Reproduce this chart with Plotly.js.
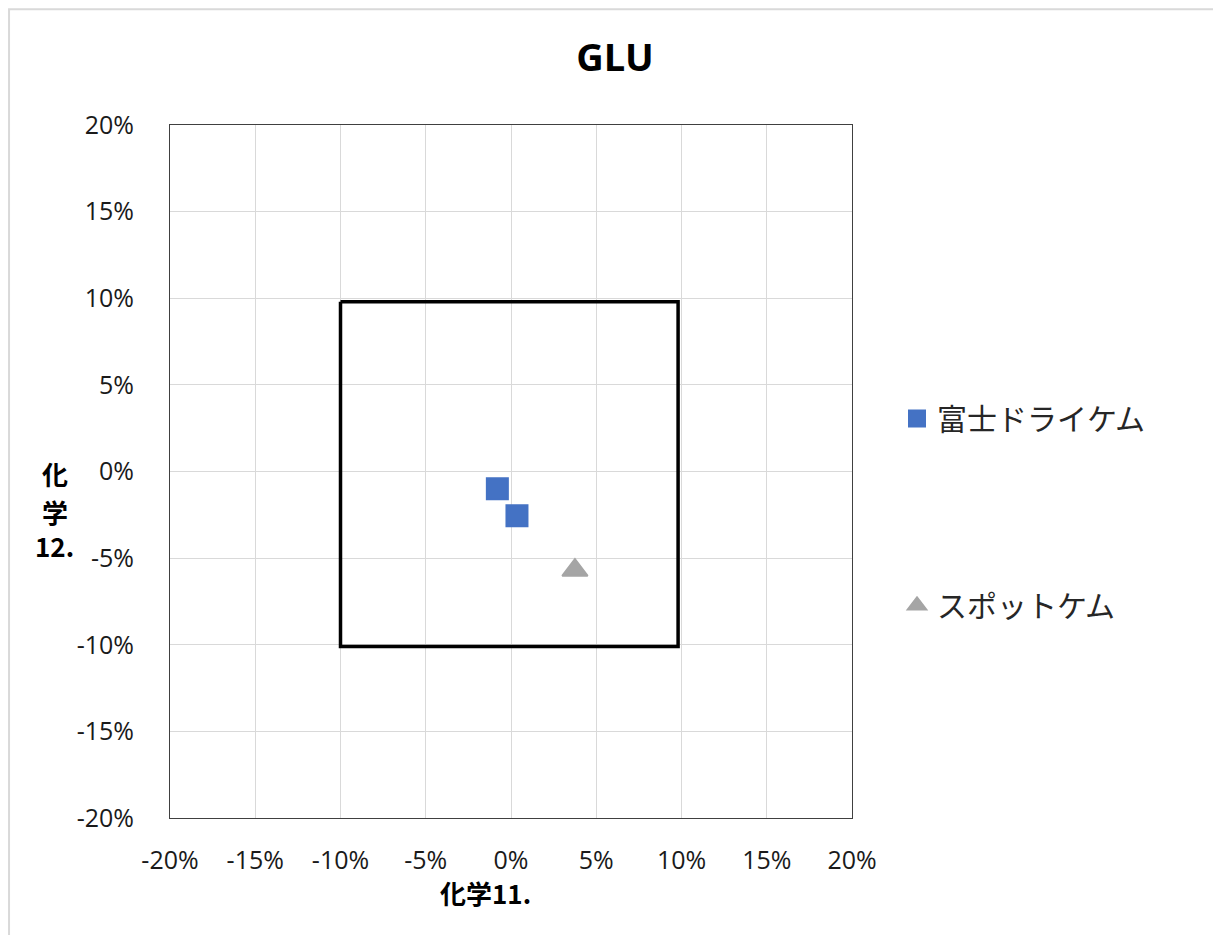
<!DOCTYPE html>
<html>
<head>
<meta charset="utf-8">
<script src="https://cdn.plot.ly/plotly-3.0.1.min.js"></script>
<style>
html,body{margin:0;padding:0;background:#fff;}
#chart{width:1213px;height:935px;}
</style>
</head>
<body>
<div id="chart"></div>
<script>
// Data (percent)
const seriesNames = ["富士ドライケム", "スポットケム"];
const fujiX = [-0.8, 0.35];
const fujiY = [-1.0, -2.55];
const spotX = [3.75];
const spotY = [-5.7];
// Target box corners (percent)
const boxX = [-10, 9.8, 9.8, -10, -10];
const boxY = [9.8, 9.8, -10.1, -10.1, 9.8];
// Tick labels
const tickVals = [-20, -15, -10, -5, 0, 5, 10, 15, 20];
const tickText = ["-20%", "-15%", "-10%", "-5%", "0%", "5%", "10%", "15%", "20%"];
// Axis titles
const xTitle = "化学11.";
const yTitleLines = ["化", "学", "12."];

const font = "'Open Sans', 'Noto Sans', 'Noto Sans CJK JP', sans-serif";
const cjk = "'Noto Sans CJK JP', 'Noto Sans', sans-serif";

const traces = [
  {x: boxX, y: boxY, mode: "lines", line: {color: "#000000", width: 3.5}, showlegend: false, hoverinfo: "skip"},
  {x: fujiX, y: fujiY, mode: "markers", name: seriesNames[0], legendgroup: "a",
   marker: {symbol: "square", size: 21, color: "#4472C4", line: {color: "#4472C4", width: 2}}},
  {x: spotX, y: spotY, mode: "markers", name: seriesNames[1], legendgroup: "b",
   marker: {symbol: "triangle-up", size: 22, color: "#A5A5A5", line: {color: "#A5A5A5", width: 2}}}
];

const axisCommon = {
  range: [-20, 20], tickvals: tickVals, ticktext: tickText, showgrid: true,
  gridcolor: "#D9D9D9", gridwidth: 1, zeroline: false, showline: true, mirror: true,
  linecolor: "#404040", linewidth: 1, ticks: "", tickfont: {family: font, size: 25, color: "#1a1a1a"},
  fixedrange: true
};

const yAnnY = [0.4965, 0.4416, 0.3935];
const annotations = [
  {text: "<b>" + xTitle + "</b>", xref: "paper", yref: "paper", x: 0.462, y: -0.108, showarrow: false,
   font: {family: cjk, size: 26, color: "#000000"}, xanchor: "center", yanchor: "middle"}
];
yTitleLines.forEach((t, i) => {
  annotations.push({text: "<b>" + t + "</b>", xref: "paper", yref: "paper", x: -0.169, y: yAnnY[i], showarrow: false,
    font: {family: cjk, size: 26, color: "#000000"}, xanchor: "center", yanchor: "middle"});
});

const layout = {
  width: 1213, height: 935,
  margin: {l: 170, r: 361, t: 125, b: 117},
  paper_bgcolor: "#ffffff", plot_bgcolor: "#ffffff",
  title: {text: "<b>GLU</b>", font: {family: font, size: 38, color: "#000000"}, x: 0.507, xref: "container", y: 0.938, yanchor: "middle"},
  xaxis: Object.assign({}, axisCommon, {ticklabelstandoff: 20}),
  yaxis: Object.assign({}, axisCommon, {ticklabelstandoff: 30}),
  showlegend: true,
  legend: {x: 1.066, xref: "paper", y: 0.614, yanchor: "top", font: {family: cjk, size: 30, color: "#262626"},
           traceorder: "grouped", tracegroupgap: 145, itemwidth: 30, bgcolor: "rgba(0,0,0,0)"},
  annotations: annotations,
  shapes: [
    {type: "rect", xref: "paper", yref: "paper", x0: -0.236, x1: 1.6, y0: -0.2, y1: 1.167,
     line: {color: "#D9D9D9", width: 2}, fillcolor: "rgba(0,0,0,0)", layer: "below"}
  ]
};

Plotly.newPlot("chart", traces, layout, {displayModeBar: false, staticPlot: true});
</script>
</body>
</html>
